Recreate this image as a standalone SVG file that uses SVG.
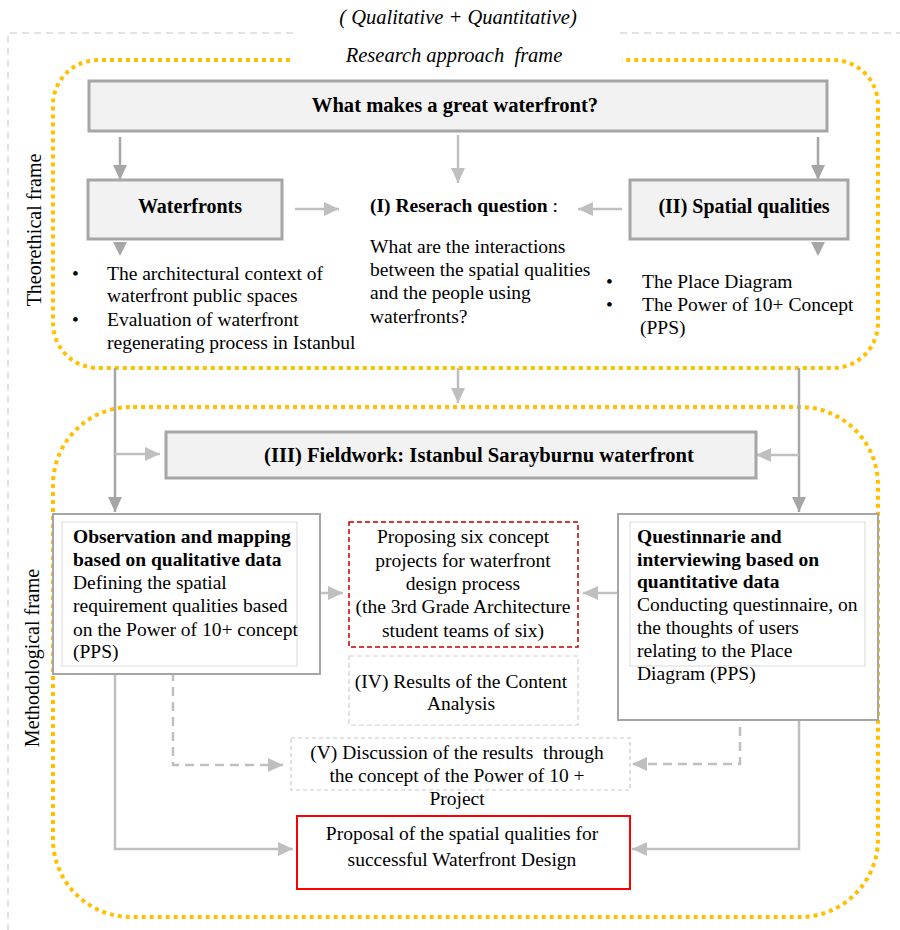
<svg xmlns="http://www.w3.org/2000/svg" width="900" height="930" viewBox="0 0 900 930">
<style>
  text { font-family: "Liberation Serif", "Times New Roman", serif; fill: #000; }
  .t17 { font-size: 19.5px; }
  .t18 { font-size: 20px; }
  .th { font-size: 20.6px; }
  .b { font-weight: bold; }
  .it { font-style: italic; font-size: 20.5px; }
  .mid { text-anchor: middle; }
  .gbox { fill: #f2f2f2; stroke: #a6a6a6; stroke-width: 3; }
  .outer { fill: #fff; stroke: #a6a6a6; stroke-width: 2; }
  .inner { fill: #fff; stroke: #d9d9d9; stroke-width: 1; }
  .yel { fill: none; stroke: #ffc000; stroke-width: 4; stroke-dasharray: 4 4; }
  .gdash { fill: none; stroke: #d9d9d9; stroke-width: 1.5; stroke-dasharray: 7 5; }
  .c1 { fill: none; stroke: #a6a6a6; stroke-width: 2.5; }
  .c2 { fill: none; stroke: #bfbfbf; stroke-width: 2.5; }
  .c3 { fill: none; stroke: #bfbfbf; stroke-width: 2.5; stroke-dasharray: 9 6; }
</style>
<defs>
  <marker id="ah1" markerUnits="userSpaceOnUse" markerWidth="16" markerHeight="16" refX="15" refY="8" orient="auto">
    <path d="M0,1 L15,8 L0,15 z" fill="#a6a6a6"/>
  </marker>
  <marker id="ah2" markerUnits="userSpaceOnUse" markerWidth="16" markerHeight="16" refX="15" refY="8" orient="auto">
    <path d="M0,1 L15,8 L0,15 z" fill="#bfbfbf"/>
  </marker>
</defs>
<rect width="900" height="930" fill="#fff"/>

<g id="frames">
  <path class="gdash" d="M293,33 L8,33 L8,930 M620,33 L900,33"/>
  <path class="yel" d="M290,60 L98,60 A45,45 0 0 0 53,105 L53,323 A45,45 0 0 0 98,368 L833,368 A45,45 0 0 0 878,323 L878,105 A45,45 0 0 0 833,60 L622,60"/>
  <path class="yel" d="M133,407 L800,407 A78,78 0 0 1 878,485 L878,839 A78,78 0 0 1 800,917 L131,917 A78,78 0 0 1 53,839 L53,485 A78,78 0 0 1 131,407 Z"/>
  <text class="it mid" x="458" y="24">( Qualitative + Quantitative)</text>
  <text class="it mid" x="454" y="62">Research approach&#160; frame</text>
  <text class="t18 mid" transform="translate(41,230) rotate(-90)">Theorethical frame</text>
  <text class="t18 mid" transform="translate(39,658) rotate(-90)">Methodological frame</text>
</g>

<g id="connectors">
  <line class="c1" x1="120" y1="137" x2="120" y2="180" marker-end="url(#ah1)"/>
  <line class="c2" x1="458" y1="135" x2="458" y2="183" marker-end="url(#ah2)"/>
  <line class="c1" x1="818" y1="137" x2="818" y2="180" marker-end="url(#ah1)"/>
  <polygon points="113,242 127,242 120,256" fill="#a6a6a6"/>
  <polygon points="811,242 825,242 818,256" fill="#a6a6a6"/>
  <line class="c2" x1="295" y1="209" x2="339" y2="209" marker-end="url(#ah2)"/>
  <line class="c2" x1="622" y1="209" x2="578" y2="209" marker-end="url(#ah2)"/>

  <line class="c1" x1="115" y1="368" x2="115" y2="512" marker-end="url(#ah1)"/>
  <line class="c2" x1="115" y1="454" x2="160" y2="454" marker-end="url(#ah2)"/>
  <line class="c2" x1="458" y1="368" x2="458" y2="403" marker-end="url(#ah2)"/>
  <line class="c1" x1="799" y1="368" x2="799" y2="512" marker-end="url(#ah1)"/>
  <line class="c2" x1="799" y1="455" x2="756" y2="455" marker-end="url(#ah2)"/>

  <line class="c2" x1="300" y1="593" x2="343" y2="593" marker-end="url(#ah2)"/>
  <line class="c2" x1="625" y1="593" x2="583" y2="593" marker-end="url(#ah2)"/>

  <polyline class="c3" points="173,672 173,765 283,765" marker-end="url(#ah2)"/>
  <polyline class="c3" points="740,667 740,764 632,764" marker-end="url(#ah2)"/>

  <polyline class="c2" points="115,674 115,849 293,849" marker-end="url(#ah2)"/>
  <polyline class="c2" points="799,673 799,849 632,849" marker-end="url(#ah2)"/>
</g>

<g id="node-top">
  <rect class="gbox" x="89" y="81" width="738" height="50"/>
  <text class="th b mid" x="455" y="112">What makes a great waterfront?</text>
</g>

<g id="node-waterfronts">
  <rect class="gbox" x="88" y="180" width="194" height="59"/>
  <text class="t18 b mid" x="190" y="213">Waterfronts</text>
</g>

<g id="node-waterfronts-list">
  <text class="t17" x="72" y="280">•</text>
  <text class="t17" x="107" y="280">The architectural context of</text>
  <text class="t17" x="107" y="302">waterfront public spaces</text>
  <text class="t17" x="72" y="326">•</text>
  <text class="t17" x="107" y="326">Evaluation of waterfront</text>
  <text class="t17" x="107" y="349">regenerating process in Istanbul</text>
</g>

<g id="node-question">
  <text class="t17" x="370" y="212"><tspan class="b">(I) Reserach question</tspan> :</text>
  <text class="t17" x="370" y="253">What are the interactions</text>
  <text class="t17" x="370" y="276">between the spatial qualities</text>
  <text class="t17" x="370" y="299">and the people using</text>
  <text class="t17" x="370" y="323">waterfronts?</text>
</g>

<g id="node-spatial">
  <rect class="gbox" x="630" y="180" width="218" height="59"/>
  <text class="t18 b mid" x="744" y="213">(II) Spatial qualities</text>
</g>

<g id="node-spatial-list">
  <text class="t17" x="606" y="288">•</text>
  <text class="t17" x="642" y="288">The Place Diagram</text>
  <text class="t17" x="606" y="311">•</text>
  <text class="t17" x="642" y="311">The Power of 10+ Concept</text>
  <text class="t17" x="640" y="334">(PPS)</text>
</g>

<g id="node-fieldwork">
  <rect class="gbox" x="166" y="432" width="590" height="46"/>
  <text class="th b mid" x="479" y="462">(III) Fieldwork: Istanbul Sarayburnu waterfront</text>
</g>

<g id="node-observation">
  <rect class="outer" x="53" y="514" width="267" height="160"/>
  <rect class="inner" x="62" y="522" width="235" height="144"/>
  <text class="t17 b" x="73" y="543">Observation and mapping</text>
  <text class="t17 b" x="73" y="566">based on qualitative data</text>
  <text class="t17" x="73" y="589">Defining the spatial</text>
  <text class="t17" x="73" y="612">requirement qualities based</text>
  <text class="t17" x="73" y="636">on the Power of 10+ concept</text>
  <text class="t17" x="73" y="658">(PPS)</text>
</g>

<g id="node-proposing">
  <rect x="349" y="522" width="229" height="125" fill="#fff" stroke="#c00000" stroke-width="1.5" stroke-dasharray="5 3"/>
  <text class="t17 mid" x="463" y="543">Proposing six concept</text>
  <text class="t17 mid" x="463" y="567">projects for waterfront</text>
  <text class="t17 mid" x="463" y="590">design process</text>
  <text class="t17 mid" x="463" y="613">(the 3rd Grade Architecture</text>
  <text class="t17 mid" x="463" y="637">student teams of six)</text>
</g>

<g id="node-questionnaire">
  <rect class="outer" x="618" y="514" width="260" height="206"/>
  <rect class="inner" x="630" y="522" width="235" height="144"/>
  <text class="t17 b" x="637" y="543">Questinnarie and</text>
  <text class="t17 b" x="637" y="566">interviewing based on</text>
  <text class="t17 b" x="637" y="588">quantitative data</text>
  <text class="t17" x="637" y="611">Conducting questinnaire, on</text>
  <text class="t17" x="637" y="634">the thoughts of users</text>
  <text class="t17" x="637" y="657">relating to the Place</text>
  <text class="t17" x="637" y="680">Diagram (PPS)</text>
</g>

<g id="node-results">
  <rect x="349" y="656" width="229" height="69" fill="#fff" stroke="#d0d0d0" stroke-width="1.2" stroke-dasharray="5 3"/>
  <text class="t17 mid" x="461" y="688">(IV) Results of the Content</text>
  <text class="t17 mid" x="461" y="710">Analysis</text>
</g>

<g id="node-discussion">
  <rect x="291" y="738" width="339" height="52" fill="#fff" stroke="#c8c8c8" stroke-width="1.2" stroke-dasharray="4 3"/>
  <text class="t17 mid" x="457" y="759">(V) Discussion of the results&#160; through</text>
  <text class="t17 mid" x="457" y="782">the concept of the Power of 10 +</text>
  <text class="t17 mid" x="457" y="805">Project</text>
</g>

<g id="node-proposal">
  <rect x="297" y="816" width="333" height="73" fill="#fff" stroke="#ff0000" stroke-width="2"/>
  <text class="t17 mid" x="462" y="840">Proposal of the spatial qualities for</text>
  <text class="t17 mid" x="462" y="866">successful Waterfront Design</text>
</g>
</svg>
